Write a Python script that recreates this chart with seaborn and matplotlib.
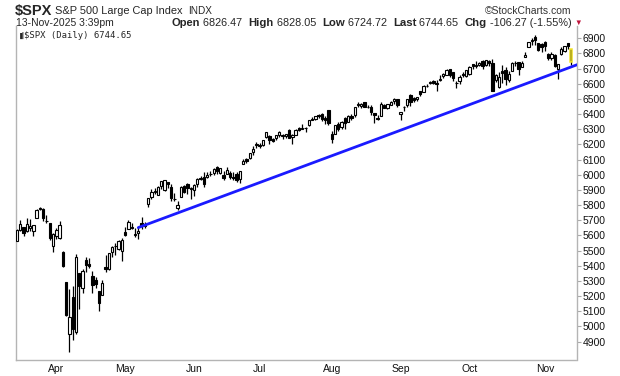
import numpy as np
import pandas as pd
import seaborn as sns
import matplotlib.pyplot as plt

# daily candles, $SPX 14-Mar-2025 .. 13-Nov-2025
dates = [
    "2025-03-14", "2025-03-17", "2025-03-18", "2025-03-19", "2025-03-20", "2025-03-21",
    "2025-03-24", "2025-03-25", "2025-03-26", "2025-03-27", "2025-03-28", "2025-03-31",
    "2025-04-01", "2025-04-02", "2025-04-03", "2025-04-04", "2025-04-07", "2025-04-08",
    "2025-04-09", "2025-04-10", "2025-04-11", "2025-04-14", "2025-04-15", "2025-04-16",
    "2025-04-17", "2025-04-21", "2025-04-22", "2025-04-23", "2025-04-24", "2025-04-25",
    "2025-04-28", "2025-04-29", "2025-04-30", "2025-05-01", "2025-05-02", "2025-05-05",
    "2025-05-06", "2025-05-07", "2025-05-08", "2025-05-09", "2025-05-12", "2025-05-13",
    "2025-05-14", "2025-05-15", "2025-05-16", "2025-05-19", "2025-05-20", "2025-05-21",
    "2025-05-22", "2025-05-23", "2025-05-27", "2025-05-28", "2025-05-29", "2025-05-30",
    "2025-06-02", "2025-06-03", "2025-06-04", "2025-06-05", "2025-06-06", "2025-06-09",
    "2025-06-10", "2025-06-11", "2025-06-12", "2025-06-13", "2025-06-16", "2025-06-17",
    "2025-06-18", "2025-06-20", "2025-06-23", "2025-06-24", "2025-06-25", "2025-06-26",
    "2025-06-27", "2025-06-30", "2025-07-01", "2025-07-02", "2025-07-03", "2025-07-07",
    "2025-07-08", "2025-07-09", "2025-07-10", "2025-07-11", "2025-07-14", "2025-07-15",
    "2025-07-16", "2025-07-17", "2025-07-18", "2025-07-21", "2025-07-22", "2025-07-23",
    "2025-07-24", "2025-07-25", "2025-07-28", "2025-07-29", "2025-07-30", "2025-07-31",
    "2025-08-01", "2025-08-04", "2025-08-05", "2025-08-06", "2025-08-07", "2025-08-08",
    "2025-08-11", "2025-08-12", "2025-08-13", "2025-08-14", "2025-08-15", "2025-08-18",
    "2025-08-19", "2025-08-20", "2025-08-21", "2025-08-22", "2025-08-25", "2025-08-26",
    "2025-08-27", "2025-08-28", "2025-08-29", "2025-09-02", "2025-09-03", "2025-09-04",
    "2025-09-05", "2025-09-08", "2025-09-09", "2025-09-10", "2025-09-11", "2025-09-12",
    "2025-09-15", "2025-09-16", "2025-09-17", "2025-09-18", "2025-09-19", "2025-09-22",
    "2025-09-23", "2025-09-24", "2025-09-25", "2025-09-26", "2025-09-29", "2025-09-30",
    "2025-10-01", "2025-10-02", "2025-10-03", "2025-10-06", "2025-10-07", "2025-10-08",
    "2025-10-09", "2025-10-10", "2025-10-13", "2025-10-14", "2025-10-15", "2025-10-16",
    "2025-10-17", "2025-10-20", "2025-10-21", "2025-10-22", "2025-10-23", "2025-10-24",
    "2025-10-27", "2025-10-28", "2025-10-29", "2025-10-30", "2025-10-31", "2025-11-03",
    "2025-11-04", "2025-11-05", "2025-11-06", "2025-11-07", "2025-11-10", "2025-11-11",
    "2025-11-12", "2025-11-13",
]
opens = [
    5563, 5635, 5654, 5632, 5647, 5632, 5718, 5776, 5772, 5696, 5679, 5528,
    5597, 5581, 5492, 5292, 4953, 5193, 4966, 5353, 5255, 5441, 5411, 5335,
    5306, 5232, 5207, 5395, 5381, 5489, 5529, 5508, 5499, 5626, 5645, 5654,
    5605, 5614, 5680, 5675, 5807, 5854, 5888, 5869, 5929, 5903, 5952, 5921,
    5841, 5781, 5855, 5926, 5940, 5904, 5897, 5939, 5978, 5986, 5988, 6005,
    6010, 6050, 6010, 5997, 6005, 6013, 5986, 6004, 5970, 6069, 6104, 6112,
    6151, 6194, 6187, 6194, 6247, 6259, 6239, 6240, 6263, 6255, 6255, 6297,
    6249, 6264, 6308, 6304, 6307, 6326, 6368, 6371, 6397, 6403, 6375, 6427,
    6272, 6271, 6338, 6316, 6373, 6349, 6389, 6397, 6462, 6453, 6479, 6446,
    6446, 6408, 6375, 6390, 6458, 6438, 6460, 6487, 6497, 6401, 6447, 6458,
    6529, 6505, 6503, 6551, 6545, 6587, 6603, 6620, 6604, 6627, 6650, 6655,
    6696, 6675, 6605, 6618, 6662, 6651, 6663, 6731, 6722, 6725, 6748, 6724,
    6753, 6740, 6625, 6577, 6683, 6688, 6625, 6686, 6736, 6743, 6712, 6774,
    6845, 6885, 6910, 6869, 6864, 6878, 6798, 6767, 6793, 6700, 6796, 6819,
    6866, 6826.47,
]
highs = [
    5645, 5703, 5655, 5716, 5711, 5670, 5776, 5786, 5783, 5733, 5685, 5614,
    5651, 5695, 5500, 5292, 5246, 5267, 5481, 5353, 5381, 5460, 5450, 5367,
    5328, 5232, 5309, 5469, 5485, 5528, 5553, 5571, 5581, 5659, 5700, 5684,
    5649, 5654, 5721, 5691, 5845, 5907, 5913, 5924, 5958, 5969, 5954, 5939,
    5878, 5829, 5924, 5930, 5944, 5922, 5938, 5981, 5991, 6017, 6016, 6022,
    6043, 6060, 6046, 6027, 6051, 6024, 6019, 6019, 6028, 6101, 6108, 6146,
    6187, 6215, 6210, 6227, 6285, 6262, 6243, 6265, 6291, 6270, 6272, 6303,
    6269, 6304, 6316, 6336, 6316, 6360, 6382, 6390, 6401, 6410, 6390, 6427,
    6288, 6330, 6346, 6352, 6378, 6391, 6402, 6446, 6481, 6474, 6482, 6458,
    6457, 6409, 6393, 6482, 6467, 6467, 6489, 6508, 6498, 6416, 6454, 6502,
    6532, 6512, 6513, 6555, 6593, 6600, 6616, 6627, 6624, 6656, 6672, 6695,
    6698, 6676, 6620, 6656, 6679, 6690, 6718, 6731, 6750, 6745, 6755, 6754,
    6757, 6764, 6665, 6676, 6724, 6712, 6687, 6745, 6752, 6745, 6749, 6808,
    6878, 6901, 6920, 6870, 6866, 6880, 6803, 6812, 6798, 6730, 6841, 6847,
    6870, 6828.05,
]
lows = [
    5563, 5631, 5597, 5622, 5632, 5598, 5718, 5765, 5695, 5681, 5572, 5488,
    5576, 5579, 5390, 5069, 4835, 4910, 4950, 5115, 5220, 5359, 5386, 5220,
    5255, 5101, 5207, 5356, 5371, 5455, 5468, 5506, 5434, 5597, 5644, 5640,
    5590, 5578, 5640, 5650, 5788, 5839, 5873, 5866, 5908, 5895, 5910, 5830,
    5825, 5768, 5855, 5883, 5874, 5843, 5862, 5922, 5967, 5921, 5978, 5994,
    6000, 6003, 6005, 5963, 6005, 5974, 5968, 5952, 5943, 6069, 6080, 6107,
    6132, 6177, 6178, 6188, 6245, 6201, 6215, 6229, 6251, 6237, 6241, 6243,
    6201, 6263, 6286, 6303, 6282, 6319, 6361, 6363, 6376, 6357, 6332, 6327,
    6212, 6271, 6289, 6300, 6305, 6349, 6360, 6384, 6447, 6442, 6444, 6439,
    6397, 6343, 6360, 6386, 6438, 6434, 6457, 6470, 6444, 6361, 6420, 6445,
    6454, 6481, 6486, 6522, 6545, 6578, 6599, 6598, 6551, 6618, 6636, 6655,
    6645, 6621, 6570, 6600, 6644, 6643, 6656, 6698, 6707, 6718, 6700, 6716,
    6717, 6550, 6612, 6570, 6604, 6593, 6613, 6686, 6718, 6655, 6708, 6774,
    6845, 6856, 6856, 6818, 6812, 6818, 6754, 6760, 6709, 6631, 6788, 6810,
    6830, 6724.72,
]
closes = [
    5639, 5675, 5615, 5675, 5663, 5668, 5768, 5777, 5712, 5693, 5581, 5612,
    5633, 5671, 5397, 5074, 5062, 4983, 5457, 5268, 5363, 5406, 5397, 5276,
    5283, 5158, 5288, 5376, 5485, 5525, 5529, 5561, 5569, 5604, 5687, 5650,
    5607, 5631, 5664, 5660, 5844, 5887, 5893, 5917, 5958, 5964, 5940, 5845,
    5842, 5803, 5922, 5889, 5912, 5912, 5936, 5970, 5971, 5939, 6000, 6006,
    6039, 6022, 6045, 5977, 6033, 5983, 5981, 5968, 6025, 6092, 6092, 6141,
    6173, 6205, 6198, 6227, 6279, 6230, 6226, 6263, 6280, 6260, 6269, 6244,
    6264, 6297, 6297, 6306, 6310, 6359, 6363, 6389, 6390, 6371, 6363, 6339,
    6238, 6330, 6299, 6345, 6340, 6389, 6373, 6446, 6467, 6469, 6450, 6449,
    6411, 6396, 6370, 6467, 6439, 6466, 6481, 6502, 6460, 6416, 6448, 6502,
    6482, 6495, 6513, 6532, 6587, 6584, 6615, 6607, 6600, 6632, 6664, 6694,
    6657, 6638, 6605, 6644, 6661, 6688, 6711, 6715, 6716, 6740, 6715, 6754,
    6735, 6553, 6655, 6644, 6671, 6629, 6664, 6735, 6735, 6699, 6738, 6792,
    6875, 6891, 6891, 6822, 6840, 6852, 6772, 6796, 6720, 6729, 6832, 6847,
    6851, 6744.65,
]

# trendline anchors (date, price)
trend_dates = ["2025-05-07", "2025-11-13"]
trend_prices = [5652, 6711]

price_ticks = list(range(4900, 7000, 100))

df = pd.DataFrame({"date": pd.to_datetime(dates), "open": opens, "high": highs,
                   "low": lows, "close": closes})
df["i"] = np.arange(len(df))
df["up"] = df["close"] >= df["open"]

sns.set_theme(style="white")
plt.rcParams['font.family'] = ['Liberation Sans', 'DejaVu Sans']

W, H = 620, 376
fig = plt.figure(figsize=(W / 100, H / 100), dpi=100)
ax = fig.add_axes([16 / W, 16 / H, 561 / W, 334 / H])

# wicks then bodies
ax.vlines(df["i"], df["low"], df["high"], color="black", lw=0.9, zorder=2)
body_lo = df[["open", "close"]].min(axis=1)
body_h = (df["close"] - df["open"]).abs().clip(lower=2)
fc = np.where(df["up"], "white", "black")
ec = ["black"] * len(df)
lw = [0.8] * len(df)
ec[-1] = "#f5e62a"
lw[-1] = 1.1
ax.bar(df["i"], body_h, bottom=body_lo, width=0.72, color=fc, edgecolor=ec,
       linewidth=lw, zorder=3)

# blue trendline, extended to the right edge of the panel
xmax = len(df) + 0.8
t_idx = [df.loc[df["date"] == pd.Timestamp(d), "i"].iloc[0] for d in trend_dates]
slope = (trend_prices[1] - trend_prices[0]) / (t_idx[1] - t_idx[0])
tx = [t_idx[0], xmax]
ty = [trend_prices[0], trend_prices[1] + slope * (xmax - t_idx[1])]
sns.lineplot(x=tx, y=ty, color="#1a1aff", lw=2.0, ax=ax, zorder=4)

ax.set_xlim(-0.3, xmax)
ax.set_ylim(4779, 6981)

# month labels at first trading day
firsts = df.groupby(df["date"].dt.to_period("M"))["i"].first()
firsts = firsts[firsts.index.month > 3]
ax.set_xticks(firsts.values)
ax.set_xticklabels([p.strftime("%b") for p in firsts.index])
ax.yaxis.tick_right()
ax.set_yticks(price_ticks)
ax.set_yticklabels([str(v) for v in price_ticks])
ax.tick_params(axis="y", which="both", right=True, length=3, width=0.8,
               color="#aaaaaa", labelsize=7.5, pad=1, labelcolor="#111111")
ax.tick_params(axis="x", length=0, labelsize=7.5, pad=3, labelcolor="#111111")
ax.set_xlabel("")
ax.set_ylabel("")

for s in ["left", "right"]:
    ax.spines[s].set_color("#b4b4b4")
    ax.spines[s].set_linewidth(1.0)
ax.spines["top"].set_visible(False)
ax.spines["bottom"].set_color("#b4b4b4")
ax.spines["bottom"].set_linestyle((0, (1, 1)))
ax.spines["bottom"].set_linewidth(1.0)

# legend tag inside panel
ax.text(8 / 561, 1 - 9.5 / 334, "$SPX (Daily) 6744.65", transform=ax.transAxes,
        family="DejaVu Sans Mono", fontsize=6.4, va="center", ha="left")
ax.text(1.5 / 561, 1 - 9.5 / 334, "\u2590\u2503", transform=ax.transAxes,
        family="DejaVu Sans", fontsize=4.0, va="center", ha="left")

# header lines
fig.text(15 / W, 1 - 11 / H, "$SPX", fontsize=10.5, fontweight="bold",
         va="center", ha="left")
fig.text(55 / W, 1 - 11 / H, "S&P 500 Large Cap Index", fontsize=7.9,
         va="center", ha="left")
fig.text(188 / W, 1 - 11 / H, "INDX", fontsize=7.2, va="center", ha="left")
fig.text(571 / W, 1 - 11 / H, "\u00a9StockCharts.com", fontsize=7.5,
         va="center", ha="right", color="#333333")
fig.text(16 / W, 1 - 23 / H, "13-Nov-2025 3:39pm", fontsize=7.5,
         va="center", ha="left")

parts = [("Open", True), (" 6826.47  ", False), ("High", True), (" 6828.05  ", False),
         ("Low", True), (" 6724.72  ", False), ("Last", True), (" 6744.65  ", False),
         ("Chg", True), (" -106.27 (-1.55%)", False)]
prev = fig.text(172 / W, 1 - 23 / H, parts[0][0], fontsize=8, fontweight="bold",
                va="center", ha="left")
for txt, bold in parts[1:]:
    prev = ax.annotate(txt, xy=(1, 0), xycoords=prev, xytext=(0, 0),
                       textcoords="offset points", va="bottom", ha="left",
                       fontsize=8.2 if bold else 7.8,
                       fontweight="bold" if bold else "normal",
                       annotation_clip=False)
fig.text(578 / W, 1 - 23 / H, "\u25bc", fontsize=5.5, color="#c0143c",
         va="center", ha="center")

fig.savefig("out.png", dpi=100)
